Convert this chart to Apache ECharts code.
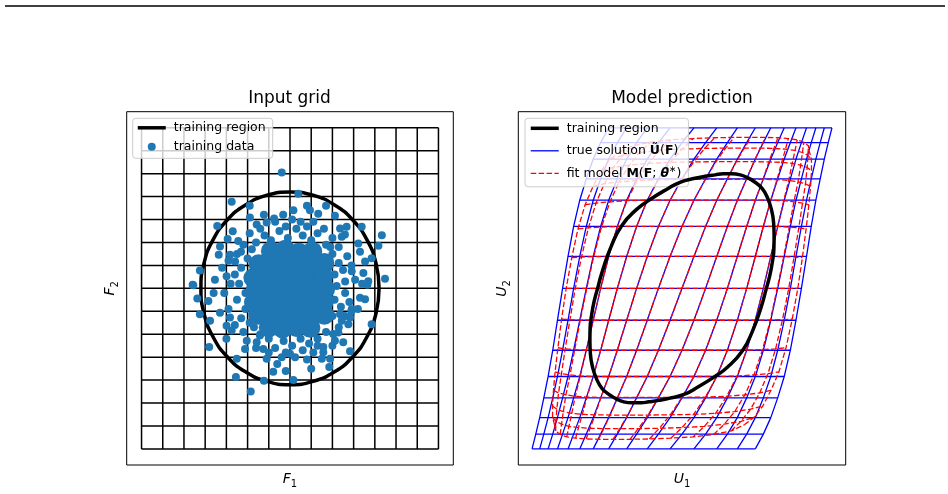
<!DOCTYPE html>
<html>
<head>
<meta charset="utf-8">
<script src="https://cdn.jsdelivr.net/npm/echarts@6/dist/echarts.min.js"></script>
<style>
html, body { margin: 0; padding: 0; background: #fff; }
#chart { width: 948px; height: 494px; }
</style>
</head>
<body>
<div id="chart"></div>
<script>
// ---- left panel: input grid (F1, F2) ----
var gridTicks = [-7, -6, -5, -4, -3, -2, -1, 0, 1, 2, 3, 4, 5, 6, 7];

// training region boundary (circle r = 4.2), read around the ring
var regionF = [
    [4.2, 0], [4.057, 1.087], [3.637, 2.1], [2.97, 2.97], [2.1, 3.637], [1.087, 4.057],
    [0, 4.2], [-1.087, 4.057], [-2.1, 3.637], [-2.97, 2.97], [-3.637, 2.1], [-4.057, 1.087],
    [-4.2, 0], [-4.057, -1.087], [-3.637, -2.1], [-2.97, -2.97], [-2.1, -3.637], [-1.087, -4.057],
    [0, -4.2], [1.087, -4.057], [2.1, -3.637], [2.97, -2.97], [3.637, -2.1], [4.057, -1.087], [4.2, 0]
];

// training data: dense core (drawn with larger dots so it reads as solid)
var coreF = [
    [-0.9, 1.62], [-0.22, 1.68], [0.42, 1.55], [1.05, 1.6],
    [-1.48, 1.05], [-0.82, 1.1], [-0.15, 0.98], [0.5, 1.08], [1.12, 1.02], [1.62, 1.1],
    [-1.72, 0.45], [-1.05, 0.52], [-0.38, 0.42], [0.28, 0.55], [0.92, 0.45], [1.55, 0.5],
    [-1.62, -0.1], [-0.95, 0.0], [-0.3, -0.08], [0.35, 0.02], [1.0, -0.05], [1.66, -0.02],
    [-1.7, -0.62], [-1.02, -0.55], [-0.4, -0.65], [0.26, -0.58], [0.9, -0.62], [1.58, -0.6],
    [-1.5, -1.15], [-0.86, -1.12], [-0.2, -1.2], [0.45, -1.1], [1.1, -1.18], [1.62, -1.15],
    [-1.0, -1.7], [-0.35, -1.75], [0.3, -1.68], [0.96, -1.72]
];

// training data: individual samples around the core
var trainF = [
    [-1.6, 2.0], [-1.2, 2.3], [-0.9, 2.1], [-0.5, 2.5], [-0.1, 2.2], [0.3, 2.6], [0.6, 2.3],
    [1.0, 2.1], [1.3, 2.4], [1.7, 1.9], [-0.2, 2.7], [0.8, 2.7], [-1.8, 1.7],
    [2.0, 1.5], [2.3, 1.1], [2.1, 0.6], [2.5, 0.8], [2.2, 0.1], [2.6, -0.2], [2.1, -0.5],
    [2.4, -0.8], [2.0, -1.2], [2.6, 0.3], [1.9, 1.8],
    [1.7, -1.9], [1.3, -2.2], [0.9, -2.4], [0.5, -2.2], [0.1, -2.5], [-0.3, -2.3], [-0.7, -2.6],
    [-1.0, -2.2], [-1.4, -2.0], [-1.7, -1.7], [0.6, -2.7], [-0.2, -2.8], [1.1, -2.8],
    [-2.0, 1.3], [-2.3, 0.9], [-2.0, 0.5], [-2.4, 0.2], [-2.1, -0.2], [-2.5, -0.5], [-2.1, -0.9],
    [-2.3, -1.3], [-2.6, 0.6], [-1.9, -1.5],
    [-2.2, 1.9], [-1.9, 2.4], [-1.4, 2.6], [-0.7, 2.9], [0.1, 3.0], [0.5, 2.9], [1.1, 2.9],
    [1.6, 2.6], [2.0, 2.2], [2.3, 1.8], [2.7, 1.4], [2.9, 1.0], [2.8, -0.6], [2.9, -1.0],
    [2.6, -1.2], [2.3, -1.7], [2.0, -2.5], [1.3, -2.5], [0.8, -3.1], [-0.6, -3.3], [-1.0, -2.8],
    [-1.6, -2.6], [-2.2, -1.9], [-2.6, -1.6], [-2.9, -0.9], [-3.1, -0.2], [-2.8, 0.2], [-3.2, 0.9],
    [-2.9, 1.2], [-2.5, 1.5], [-3.6, -0.2], [3.2, -0.9], [3.4, 0.2], [-3.0, -2.2], [1.0, -3.5],
    [-0.2, -3.6], [0.8, 3.6], [-1.9, 3.6], [1.7, 3.6],
    [-0.39, 5.05], [-2.75, 3.78], [-1.89, 3.09], [-1.23, 3.21], [-0.75, 3.04], [-0.32, 3.21],
    [-3.43, 2.72], [-2.7, 2.49], [-1.57, 2.78], [-1.1, 2.87], [-2.94, 2.15], [-2.44, 2.06],
    [-3.3, 1.82], [-2.83, 1.46], [-3.36, 1.46], [-2.31, 1.6], [-4.25, 0.78], [-3.54, 0.38],
    [-4.59, 0.16], [-2.59, 1.17], [-2.99, 0.53],
    [0.39, 4.12], [0.16, 3.4], [0.94, 3.4], [1.33, 3.25], [2.12, 3.16], [2.67, 2.68], [2.59, 2.35],
    [3.38, 2.68], [4.33, 2.32], [4.17, 1.86], [3.22, 1.96], [3.3, 1.6], [3.54, 1.17], [3.85, 1.31],
    [4.48, 0.42], [2.91, 0.74], [3.07, 0.38], [3.46, 0.67], [3.69, 0.31], [2.36, 2.61], [2.44, 2.25],
    [-4.56, 0.14], [-4.37, -0.44], [-3.85, -0.55], [-4.25, -1.13], [-3.77, -1.41], [-3.3, -1.06],
    [-3.81, -2.56], [-2.99, -1.63], [-2.75, -1.84], [-2.83, -1.27], [-2.51, -3.07], [-2.55, -3.86],
    [-1.85, -4.5], [-2.04, -2.28], [-2.12, -2.64], [-1.26, -2.64], [-1.1, -3.07], [-0.79, -3.64],
    [-1.23, -4.03], [-1.57, -2.35], [-1.42, -2.06],
    [3.65, 0.16], [3.3, -0.41], [3.54, -0.48], [3.85, -1.56], [2.91, -0.91], [2.83, -1.27],
    [2.36, -1.13], [2.44, -1.41], [2.75, -1.56], [2.83, -2.74], [2.12, -2.28], [2.51, -2.35],
    [1.57, -2.56], [1.57, -2.78], [1.89, -3.07], [1.85, -3.43], [1.5, -3.07], [0.16, -4.0],
    [0, -2.85], [0.24, -3.0], [-0.39, -3.0], [2.28, -1.92], [2.04, -1.99]
];

// ---- right panel: model prediction (U1, U2) ----
// U2 of each grid row, F2 = -7 .. 7 (rows stay horizontal)
var rowU2 = [-16.27, -14.77, -13.1, -11.1, -8.93, -6.27, -3.23, 0, 3.23, 6.27, 8.93, 11.1, 13.1, 14.77, 16.27];

// U1 of the true solution at each node, one row per F2, columns F1 = -7 .. 7
var trueU1 = [
    [-14.93, -14.17, -13.33, -12.40, -11.35, -10.18, -8.84, -7.30, -5.51, -3.46, -1.19, 1.19, 3.46, 5.51, 7.30],
    [-14.56, -13.76, -12.87, -11.89, -10.79, -9.53, -8.10, -6.44, -4.52, -2.35, 0, 2.35, 4.52, 6.44, 8.10],
    [-14.17, -13.33, -12.40, -11.35, -10.18, -8.84, -7.30, -5.51, -3.46, -1.19, 1.19, 3.46, 5.51, 7.30, 8.84],
    [-13.76, -12.87, -11.89, -10.79, -9.53, -8.10, -6.44, -4.52, -2.35, 0, 2.35, 4.52, 6.44, 8.10, 9.53],
    [-13.33, -12.40, -11.35, -10.18, -8.84, -7.30, -5.51, -3.46, -1.19, 1.19, 3.46, 5.51, 7.30, 8.84, 10.18],
    [-12.87, -11.89, -10.79, -9.53, -8.10, -6.44, -4.52, -2.35, 0, 2.35, 4.52, 6.44, 8.10, 9.53, 10.79],
    [-12.40, -11.35, -10.18, -8.84, -7.30, -5.51, -3.46, -1.19, 1.19, 3.46, 5.51, 7.30, 8.84, 10.18, 11.35],
    [-11.89, -10.79, -9.53, -8.10, -6.44, -4.52, -2.35, 0, 2.35, 4.52, 6.44, 8.10, 9.53, 10.79, 11.89],
    [-11.35, -10.18, -8.84, -7.30, -5.51, -3.46, -1.19, 1.19, 3.46, 5.51, 7.30, 8.84, 10.18, 11.35, 12.40],
    [-10.79, -9.53, -8.10, -6.44, -4.52, -2.35, 0, 2.35, 4.52, 6.44, 8.10, 9.53, 10.79, 11.89, 12.87],
    [-10.18, -8.84, -7.30, -5.51, -3.46, -1.19, 1.19, 3.46, 5.51, 7.30, 8.84, 10.18, 11.35, 12.40, 13.33],
    [-9.53, -8.10, -6.44, -4.52, -2.35, 0, 2.35, 4.52, 6.44, 8.10, 9.53, 10.79, 11.89, 12.87, 13.76],
    [-8.84, -7.30, -5.51, -3.46, -1.19, 1.19, 3.46, 5.51, 7.30, 8.84, 10.18, 11.35, 12.40, 13.33, 14.17],
    [-8.10, -6.44, -4.52, -2.35, 0, 2.35, 4.52, 6.44, 8.10, 9.53, 10.79, 11.89, 12.87, 13.76, 14.56],
    [-7.30, -5.51, -3.46, -1.19, 1.19, 3.46, 5.51, 7.30, 8.84, 10.18, 11.35, 12.40, 13.33, 14.17, 14.93]
];

// fit model / true solution displacement ratio at each node (rows |F2| = 0..7, cols |F1| = 0..7)
var fitRatio = [
    [1, 1, 1, 1, 1, 0.995, 0.985, 0.97],
    [1, 1, 1, 1, 1, 0.995, 0.983, 0.967],
    [1, 1, 1, 1, 1, 0.99, 0.978, 0.96],
    [1, 1, 1, 1, 0.995, 0.982, 0.968, 0.948],
    [0.995, 0.995, 0.995, 0.993, 0.985, 0.972, 0.955, 0.93],
    [0.98, 0.98, 0.978, 0.975, 0.967, 0.953, 0.935, 0.91],
    [0.962, 0.962, 0.96, 0.955, 0.947, 0.932, 0.912, 0.885],
    [0.94, 0.94, 0.938, 0.933, 0.925, 0.91, 0.888, 0.85]
];

// training region mapped into U space
var regionU = [
    [-8.4, 0], [-8.75, -1.33], [-9.0, -2.7], [-9.15, -4.0], [-9.17, -5.3], [-9.12, -6.67],
    [-8.9, -8.0], [-8.5, -9.2], [-7.95, -10.15], [-7.2, -10.8], [-6.55, -11.2], [-5.8, -11.5],
    [-4.95, -11.6], [-4.1, -11.6], [-3.3, -11.5], [-2.3, -11.35], [-1.3, -11.15], [0.2, -10.75],
    [1.5, -10.05], [3.18, -9.0], [4.52, -8.0], [6.02, -6.33], [7.02, -4.33], [7.85, -2.0],
    [8.4, 0], [8.75, 1.33], [9.0, 2.7], [9.15, 4.0], [9.17, 5.3], [9.12, 6.67],
    [8.9, 8.0], [8.5, 9.2], [7.95, 10.15], [7.2, 10.8], [6.55, 11.2], [5.8, 11.5],
    [4.95, 11.6], [4.1, 11.6], [3.3, 11.5], [2.3, 11.35], [1.3, 11.15], [-0.2, 10.75],
    [-1.5, 10.05], [-3.18, 9.0], [-4.52, 8.0], [-6.02, 6.33], [-7.02, 4.33], [-7.85, 2.0],
    [-8.4, 0]
];

var FONT = 'DejaVu Sans';
var series = [];

function addLine(gi, name, data, color, width, dash, z, smooth) {
    series.push({
        type: 'line',
        name: name,
        xAxisIndex: gi,
        yAxisIndex: gi,
        data: data,
        symbol: 'none',
        smooth: smooth || false,
        silent: true,
        z: z,
        lineStyle: { color: color, width: width, type: dash || 'solid' },
        itemStyle: { color: color }
    });
}

// left grid
var lo = gridTicks[0], hi = gridTicks[gridTicks.length - 1];
gridTicks.forEach(function (t) {
    addLine(0, null, [[t, lo], [t, hi]], '#000', 1.5, null, 2);
    addLine(0, null, [[lo, t], [hi, t]], '#000', 1.5, null, 2);
});
addLine(0, 'training region', regionF, '#000', 3.5, null, 3, true);
series.push({
    type: 'scatter', name: 'training data', xAxisIndex: 0, yAxisIndex: 0,
    data: trainF, symbolSize: 8, itemStyle: { color: '#1f77b4', opacity: 1 }, z: 4, silent: true
});
series.push({
    type: 'scatter', name: 'training data', xAxisIndex: 0, yAxisIndex: 0,
    data: coreF, symbolSize: 20, itemStyle: { color: '#1f77b4', opacity: 1 }, z: 4, silent: true
});

// right grids: node tables for the true solution and the fit model
var n = rowU2.length, mid = (n - 1) / 2;
var trueNodes = [], fitNodes = [];
for (var j = 0; j < n; j++) {
    trueNodes.push([]);
    fitNodes.push([]);
    for (var i = 0; i < n; i++) {
        var r = fitRatio[Math.abs(j - mid)][Math.abs(i - mid)];
        trueNodes[j].push([trueU1[j][i], rowU2[j]]);
        fitNodes[j].push([trueU1[j][i] * r, rowU2[j] * r]);
    }
}

function gridSeries(nodes, name, color, dash, z) {
    for (var a = 0; a < n; a++) {
        var row = [], col = [];
        for (var b = 0; b < n; b++) {
            row.push(nodes[a][b]);
            col.push(nodes[b][a]);
        }
        addLine(1, name, row, color, 1.3, dash, z);
        addLine(1, name, col, color, 1.3, dash, z);
    }
}
gridSeries(trueNodes, 'true solution', '#0000ff', null, 2);
gridSeries(fitNodes, 'fit model', '#ff0000', [5.5, 2.4], 3);
addLine(1, 'training region', regionU, '#000', 3.5, null, 5, true);

var nameRich = {
    i: { fontFamily: FONT, fontStyle: 'italic', fontSize: 14, color: '#000', lineHeight: 20, verticalAlign: 'middle' },
    s: { fontFamily: FONT, fontSize: 10, color: '#000', lineHeight: 20, verticalAlign: 'bottom' }
};

function axis(gi, min, max, name, gap) {
    return {
        gridIndex: gi, type: 'value', min: min, max: max,
        axisLine: { show: false }, axisTick: { show: false }, axisLabel: { show: false },
        splitLine: { show: false },
        name: name, nameLocation: 'middle', nameGap: gap,
        nameTextStyle: { rich: nameRich }
    };
}

var legendBase = {
    orient: 'vertical',
    itemWidth: 28,
    itemHeight: 8,
    selectedMode: false,
    backgroundColor: 'rgba(255,255,255,0.8)',
    borderColor: '#cccccc',
    borderWidth: 1,
    borderRadius: 3,
    lineStyle: { width: 'inherit' }
};
var noDot = { opacity: 0 };

var chart = echarts.init(document.getElementById('chart'));
chart.setOption({
    animation: false,
    backgroundColor: '#fff',
    title: [
        { text: 'Input grid', left: 289.5, top: 90, textAlign: 'center', padding: 0,
          textStyle: { fontFamily: FONT, fontSize: 17, fontWeight: 'normal', color: '#000' } },
        { text: 'Model prediction', left: 682, top: 90, textAlign: 'center', padding: 0,
          textStyle: { fontFamily: FONT, fontSize: 17, fontWeight: 'normal', color: '#000' } }
    ],
    grid: [
        { left: 126.7, top: 111.7, width: 326.6, height: 357.6, show: true, borderColor: '#000', borderWidth: 1, backgroundColor: 'transparent' },
        { left: 518.3, top: 111.7, width: 327.4, height: 357.6, show: true, borderColor: '#000', borderWidth: 1, backgroundColor: 'transparent' }
    ],
    xAxis: [
        axis(0, -7.7, 7.7, '{i|F}{s|1}', 4),
        axis(1, -16.3, 16.3, '{i|U}{s|1}', 4)
    ],
    yAxis: [
        axis(0, -7.7, 7.7, '{i|F}{s|2}', 6),
        axis(1, -17.9, 17.9, '{i|U}{s|2}', 6)
    ],
    legend: [
        Object.assign({}, legendBase, {
            left: 132.7, top: 118.3,
            padding: [2, 7, 4, 3.3],
            itemGap: 4,
            data: [{ name: 'training region', itemStyle: noDot }, 'training data'],
            textStyle: { fontFamily: FONT, fontSize: 12.5, color: '#000', lineHeight: 15, padding: [0, 0, 0, 3] }
        }),
        Object.assign({}, legendBase, {
            left: 525, top: 118.3,
            padding: [1.5, 7, 5, 4],
            itemGap: 5.5,
            data: [
                { name: 'training region', itemStyle: noDot },
                { name: 'true solution', itemStyle: noDot },
                { name: 'fit model', itemStyle: noDot }
            ],
            formatter: function (name) {
                if (name === 'true solution') return 'true solution {b|\u0168}({b|F})';
                if (name === 'fit model') return 'fit model {b|M}({b|F}; {bi|\u03b8}{sup|\u2217})';
                return name;
            },
            textStyle: {
                fontFamily: FONT, fontSize: 12.5, color: '#000', lineHeight: 17, padding: [0, 0, 0, 3],
                rich: {
                    b: { fontFamily: FONT, fontSize: 12.5, fontWeight: 'bold', color: '#000', lineHeight: 17 },
                    bi: { fontFamily: FONT, fontSize: 12.5, fontWeight: 'bold', fontStyle: 'italic', color: '#000', lineHeight: 17 },
                    sup: { fontFamily: FONT, fontSize: 9, color: '#000', lineHeight: 17, verticalAlign: 'top' }
                }
            }
        })
    ],
    graphic: [
        { type: 'line', shape: { x1: 5, y1: 6, x2: 945, y2: 6 }, style: { stroke: '#000', lineWidth: 1.5 }, silent: true }
    ],
    series: series
});
</script>
</body>
</html>
